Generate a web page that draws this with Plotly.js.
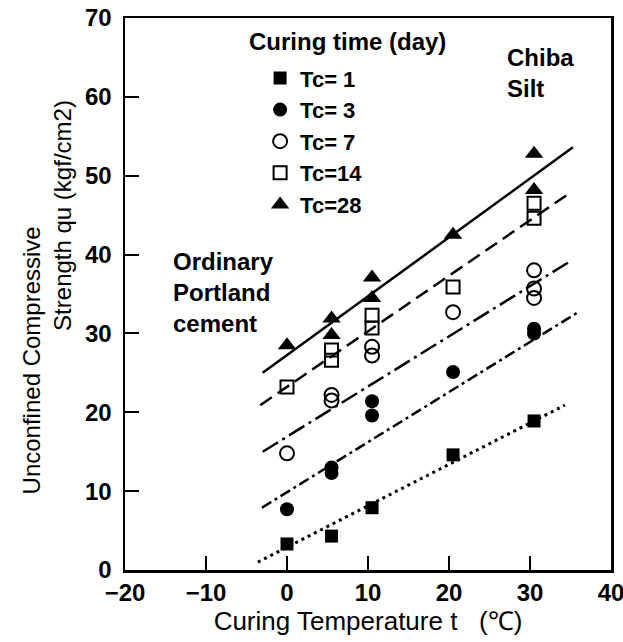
<!DOCTYPE html>
<html>
<head>
<meta charset="utf-8">
<script src="https://cdn.plot.ly/plotly-3.0.1.min.js"></script>
<style>html,body{margin:0;padding:0;background:#fff;}#chart{width:623px;height:642px;}</style>
</head>
<body>
<div id="chart"></div>
<script>
// Curing temperature (°C) and unconfined compressive strength qu (kgf/cm2)
const tc1X = [0, 5.5, 10.5, 20.5, 30.5];
const tc1Y = [3.3, 4.3, 7.9, 14.6, 18.9];
const tc3X = [0, 5.5, 5.5, 10.5, 10.5, 20.5, 30.5, 30.5];
const tc3Y = [7.7, 13.0, 12.3, 21.4, 19.6, 25.1, 30.6, 30.0];
const tc7X = [0, 5.5, 5.5, 10.5, 10.5, 20.5, 30.5, 30.5, 30.5];
const tc7Y = [14.8, 22.2, 21.5, 28.3, 27.2, 32.7, 38.0, 35.7, 34.5];
const tc14X = [0, 5.5, 5.5, 10.5, 10.5, 20.5, 30.5, 30.5];
const tc14Y = [23.2, 27.9, 26.6, 32.3, 30.7, 35.9, 46.5, 44.6];
const tc28X = [0, 5.5, 5.5, 10.5, 10.5, 20.5, 30.5, 30.5];
const tc28Y = [28.5, 31.9, 29.8, 37.1, 34.5, 42.5, 52.8, 48.2];

// fitted lines (end points)
const fit1X = [-3.6, 34.3],  fit1Y = [1.0, 20.9];
const fit3X = [-3.1, 35.8],  fit3Y = [7.9, 32.6];
const fit7X = [-3.0, 35.2],  fit7Y = [15.0, 39.3];
const fit14X = [-3.3, 34.9], fit14Y = [20.9, 47.8];
const fit28X = [-3.0, 35.3], fit28Y = [25.0, 53.6];

const legendNames = ['Tc= 1', 'Tc= 3', 'Tc= 7', 'Tc=14', 'Tc=28'];
const xTicks = [-20, -10, 0, 10, 20, 30, 40];
const yTicks = [0, 10, 20, 30, 40, 50, 60, 70];

const FONT = 'Liberation Sans, Arial, Helvetica, sans-serif';
const K = '#000';

function fitLine(x, y, dash, w) {
  return {x: x, y: y, mode: 'lines', type: 'scatter', showlegend: false, hoverinfo: 'skip',
          line: {color: K, width: w || 2.5, dash: dash}};
}
function pts(x, y, name, symbol, size, lw) {
  return {x: x, y: y, mode: 'markers', type: 'scatter', name: name,
          marker: {symbol: symbol, size: size, color: K, line: {color: K, width: lw || 0}}};
}

const data = [
  fitLine(fit1X, fit1Y, '3px,4px', 3),
  fitLine(fit3X, fit3Y, '11px,4px,3px,4px'),
  fitLine(fit7X, fit7Y, '18px,5px,3px,5px'),
  fitLine(fit14X, fit14Y, '14px,7px'),
  fitLine(fit28X, fit28Y, 'solid'),
  pts(tc1X, tc1Y, legendNames[0], 'square', 13),
  pts(tc3X, tc3Y, legendNames[1], 'circle', 14),
  pts(tc7X, tc7Y, legendNames[2], 'circle-open', 14, 2),
  pts(tc14X, tc14Y, legendNames[3], 'square-open', 13, 2),
  pts(tc28X, tc28Y, legendNames[4], 'triangle-up', 16)
];

const axisCommon = {
  showline: true, linecolor: K, linewidth: 2.5, mirror: true,
  showgrid: false, zeroline: false,
  ticks: 'inside', ticklen: 14, tickwidth: 2, tickcolor: K,
  ticklabeloverflow: 'allow',
  tickfont: {family: FONT, size: 24, color: K, weight: 'bold'}
};

const layout = {
  width: 623, height: 642,
  margin: {l: 125, r: 12, t: 18, b: 72},
  paper_bgcolor: '#fff', plot_bgcolor: '#fff',
  font: {family: FONT, color: K},
  xaxis: Object.assign({}, axisCommon, {
    range: [-20, 40], tickvals: xTicks,
    title: {text: 'Curing Temperature t\u00a0\u00a0\u00a0(\u2103)', font: {family: FONT, size: 26, color: K}, standoff: 6}
  }),
  yaxis: Object.assign({}, axisCommon, {
    range: [0, 70], tickvals: yTicks, ticklabelstandoff: 6
  }),
  showlegend: true,
  legend: {
    x: 0.278, y: 0.929, xanchor: 'left', yanchor: 'top',
    bgcolor: 'rgba(0,0,0,0)', borderwidth: 0,
    font: {family: FONT, size: 22, color: K, weight: 'bold'}
  },
  annotations: [
    {xref: 'paper', yref: 'paper', x: -0.193, y: 0.38, xanchor: 'center', yanchor: 'middle',
     textangle: -90, showarrow: false, text: 'Unconfined Compressive',
     font: {family: FONT, size: 24, color: K}},
    {xref: 'paper', yref: 'paper', x: -0.130, y: 0.643, xanchor: 'center', yanchor: 'middle',
     textangle: -90, showarrow: false, text: 'Strength qu (kgf/cm2)',
     font: {family: FONT, size: 24, color: K}},
    {xref: 'paper', yref: 'paper', x: 0.457, y: 0.958, xanchor: 'center', yanchor: 'middle',
     showarrow: false, text: 'Curing time (day)',
     font: {family: FONT, size: 24, color: K, weight: 'bold'}},
    {xref: 'paper', yref: 'paper', x: 0.782, y: 0.901, xanchor: 'left', yanchor: 'middle',
     showarrow: false, align: 'left', text: 'Chiba<br>Silt',
     font: {family: FONT, size: 24, color: K, weight: 'bold'}},
    {xref: 'paper', yref: 'paper', x: 0.095, y: 0.503, xanchor: 'left', yanchor: 'middle',
     showarrow: false, align: 'left', text: 'Ordinary<br>Portland<br>cement',
     font: {family: FONT, size: 24, color: K, weight: 'bold'}}
  ]
};

Plotly.newPlot('chart', data, layout, {displayModeBar: false, staticPlot: true});
</script>
</body>
</html>
